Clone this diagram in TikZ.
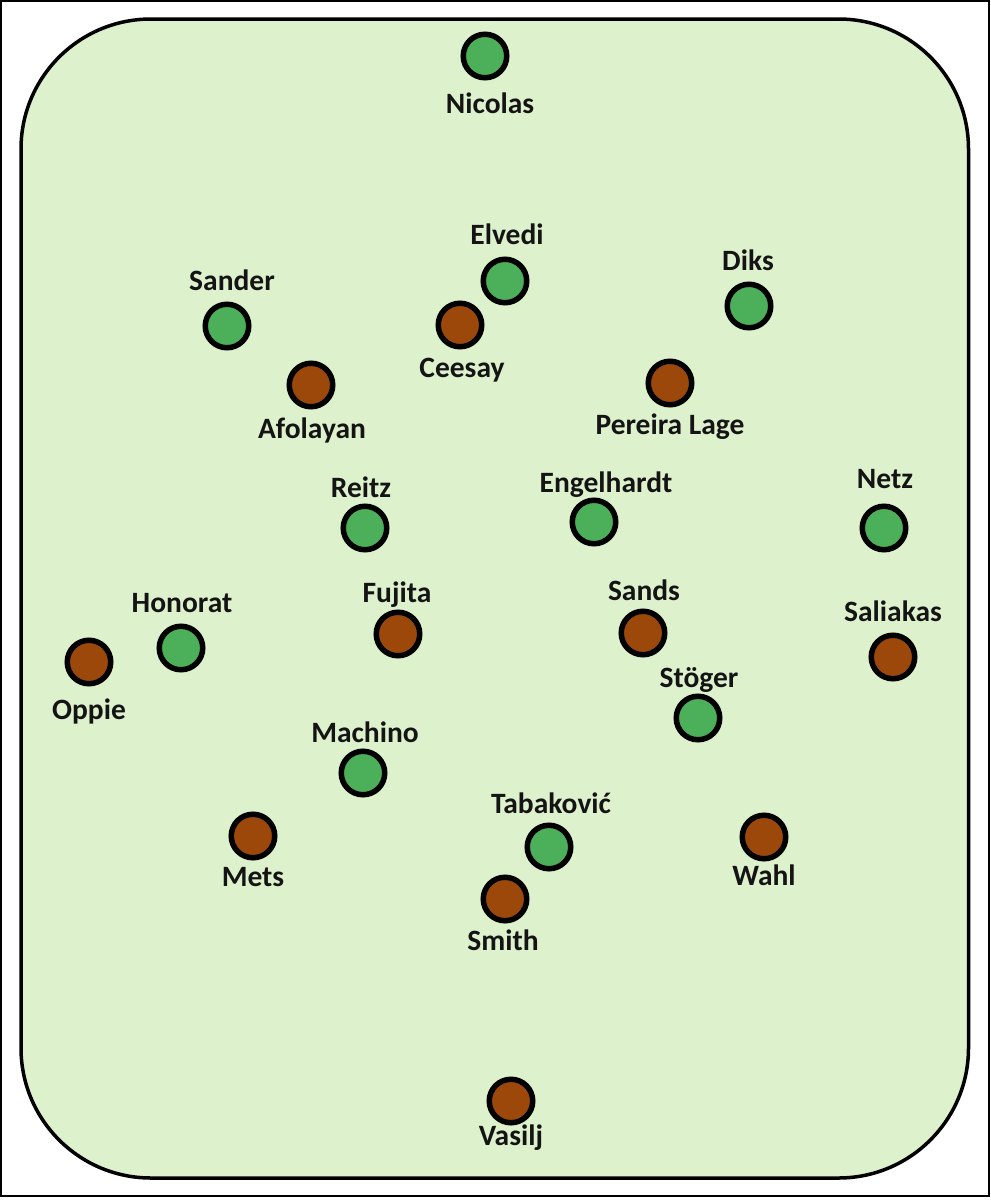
\documentclass[tikz,border=0pt]{standalone}
\usepackage{fontspec}
\setmainfont{Carlito}
\definecolor{fieldbg}{RGB}{222,241,205}
\definecolor{pgreen}{RGB}{76,175,90}
\definecolor{pbrown}{RGB}{155,72,10}
\tikzset{
  player/.style={circle, draw=black, line width=5.5pt, minimum size=43.5pt, inner sep=0pt},
  gp/.style={player, fill=pgreen},
  bp/.style={player, fill=pbrown},
  lbl/.style={anchor=base, inner sep=0pt, font=\fontsize{29.5}{34}\selectfont\bfseries, text=black!92}
}
\begin{document}
\begin{tikzpicture}[x=1pt,y=-1pt]
\useasboundingbox (0,0) rectangle (991,1200);
\fill[white] (0,0) rectangle (991,1200);
\draw[line width=2pt] (1,1) rectangle (989,1196);
\draw[line width=3.5pt, fill=fieldbg, rounded corners=130pt] (21,19) rectangle (968.5,1178);

\node[gp] (nicolas) at (485,56) {};
\node[lbl] (nicolasL) at (490,113) {Nicolas};
\node[gp] (elvedi) at (505,281) {};
\node[lbl] (elvediL) at (507,244) {Elvedi};
\node[bp] (ceesay) at (460,325) {};
\node[lbl] (ceesayL) at (462,377) {Ceesay};
\node[gp] (sander) at (227,326) {};
\node[lbl] (sanderL) at (232,290) {Sander};
\node[bp] (afolayan) at (311,385) {};
\node[lbl] (afolayanL) at (312,438) {Afolayan};
\node[gp] (diks) at (749,306) {};
\node[lbl] (diksL) at (748,270) {Diks};
\node[bp] (pereira) at (670,383) {};
\node[lbl] (pereiraL) at (670,434) {Pereira Lage};
\node[gp] (reitz) at (365,528) {};
\node[lbl] (reitzL) at (361,497) {Reitz};
\node[gp] (engelhardt) at (594,522) {};
\node[lbl] (engelhardtL) at (606,492) {Engelhardt};
\node[gp] (netz) at (884,528) {};
\node[lbl] (netzL) at (885,488) {Netz};
\node[gp] (honorat) at (181,648) {};
\node[lbl] (honoratL) at (182,612) {Honorat};
\node[bp] (oppie) at (89,662) {};
\node[lbl] (oppieL) at (89,719) {Oppie};
\node[bp] (fujita) at (398,634) {};
\node[lbl] (fujitaL) at (397,602) {Fujita};
\node[bp] (sands) at (643,633) {};
\node[lbl] (sandsL) at (644,600) {Sands};
\node[bp] (saliakas) at (893,657) {};
\node[lbl] (saliakasL) at (893,621) {Saliakas};
\node[gp] (stoger) at (698,718) {};
\node[lbl] (stogerL) at (699,687) {Stöger};
\node[gp] (machino) at (363,773) {};
\node[lbl] (machinoL) at (365,742) {Machino};
\node[bp] (mets) at (253,836) {};
\node[lbl] (metsL) at (253,886) {Mets};
\node[gp] (tabakovic) at (549,847) {};
\node[lbl] (tabakovicL) at (551,813) {Tabaković};
\node[bp] (wahl) at (764,837) {};
\node[lbl] (wahlL) at (764,885) {Wahl};
\node[bp] (smith) at (505,899) {};
\node[lbl] (smithL) at (503,950) {Smith};
\node[bp] (vasilj) at (511,1101) {};
\node[lbl] (vasiljL) at (511,1145) {Vasilj};
\end{tikzpicture}
\end{document}
